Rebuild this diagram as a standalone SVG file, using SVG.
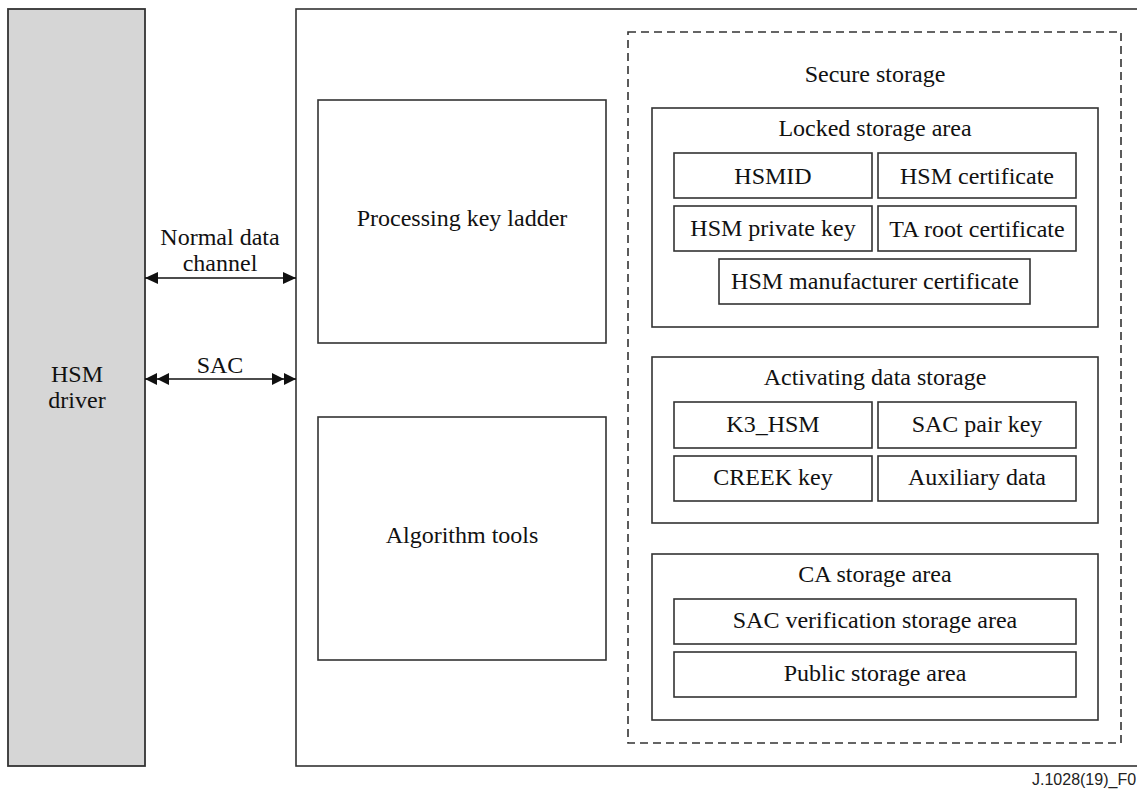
<svg xmlns="http://www.w3.org/2000/svg" width="1137" height="789" viewBox="0 0 1137 789">
  <style>
    .box { fill: #ffffff; stroke: #333333; stroke-width: 1.6; }
    .driver { fill: #d6d6d6; stroke: #333333; stroke-width: 1.8; }
    .dash { fill: none; stroke: #333333; stroke-width: 1.6; stroke-dasharray: 8 5; }
    .lbl { font-family: "Liberation Serif", "Times New Roman", serif; font-size: 24px; fill: #111111; text-anchor: middle; }
    .ref { font-family: "Liberation Sans", Arial, sans-serif; font-size: 16px; fill: #222222; }
    .conn { stroke: #111111; stroke-width: 1.6; fill: none; }
  </style>
  <defs>
    <marker id="head" markerUnits="userSpaceOnUse" markerWidth="14" markerHeight="12" refX="13" refY="6" orient="auto-start-reverse">
      <path d="M0,0 L13,6 L0,12 z" fill="#111111"/>
    </marker>
    <marker id="head2" markerUnits="userSpaceOnUse" markerWidth="25" markerHeight="12" refX="24" refY="6" orient="auto-start-reverse">
      <path d="M0,0 L12,6 L0,12 z M12,0 L24,6 L12,12 z" fill="#111111"/>
    </marker>
  </defs>

  <rect width="1137" height="789" fill="#ffffff"/>

  <g id="hsm-driver">
    <rect class="driver" x="8" y="9" width="137" height="757"/>
    <text class="lbl" x="77" y="382">HSM</text>
    <text class="lbl" x="77" y="408">driver</text>
  </g>

  <g id="hsm">
    <rect class="box" x="296" y="9" width="860" height="757"/>
  </g>

  <g id="key-ladder">
    <rect class="box" x="318" y="100" width="288" height="243"/>
    <text class="lbl" x="462" y="226">Processing key ladder</text>
  </g>

  <g id="algorithm-tools">
    <rect class="box" x="318" y="417" width="288" height="243"/>
    <text class="lbl" x="462" y="543">Algorithm tools</text>
  </g>

  <g id="secure-storage">
    <rect class="dash" x="628" y="32" width="493" height="711"/>
    <text class="lbl" x="875" y="82">Secure storage</text>
  </g>

  <g id="locked-storage">
    <rect class="box" x="652" y="108" width="446" height="219"/>
    <text class="lbl" x="875" y="136">Locked storage area</text>
  </g>
  <g id="hsmid">
    <rect class="box" x="674" y="153" width="198" height="45"/>
    <text class="lbl" x="773" y="184">HSMID</text>
  </g>
  <g id="hsm-cert">
    <rect class="box" x="878" y="153" width="198" height="45"/>
    <text class="lbl" x="977" y="184">HSM certificate</text>
  </g>
  <g id="hsm-private-key">
    <rect class="box" x="674" y="206" width="198" height="45"/>
    <text class="lbl" x="773" y="236">HSM private key</text>
  </g>
  <g id="ta-root-cert">
    <rect class="box" x="878" y="206" width="198" height="45"/>
    <text class="lbl" x="977" y="237">TA root certificate</text>
  </g>
  <g id="hsm-mfr-cert">
    <rect class="box" x="719" y="259" width="311" height="45"/>
    <text class="lbl" x="875" y="289">HSM manufacturer certificate</text>
  </g>

  <g id="activating-storage">
    <rect class="box" x="652" y="357" width="446" height="166"/>
    <text class="lbl" x="875" y="385">Activating data storage</text>
  </g>
  <g id="k3-hsm">
    <rect class="box" x="674" y="402" width="198" height="46"/>
    <text class="lbl" x="773" y="432">K3_HSM</text>
  </g>
  <g id="sac-pair-key">
    <rect class="box" x="878" y="402" width="198" height="46"/>
    <text class="lbl" x="977" y="432">SAC pair key</text>
  </g>
  <g id="creek-key">
    <rect class="box" x="674" y="456" width="198" height="45"/>
    <text class="lbl" x="773" y="485">CREEK key</text>
  </g>
  <g id="auxiliary-data">
    <rect class="box" x="878" y="456" width="198" height="45"/>
    <text class="lbl" x="977" y="485">Auxiliary data</text>
  </g>

  <g id="ca-storage">
    <rect class="box" x="652" y="554" width="446" height="166"/>
    <text class="lbl" x="875" y="582">CA storage area</text>
  </g>
  <g id="sac-verification">
    <rect class="box" x="674" y="599" width="402" height="45"/>
    <text class="lbl" x="875" y="628">SAC verification storage area</text>
  </g>
  <g id="public-storage">
    <rect class="box" x="674" y="652" width="402" height="45"/>
    <text class="lbl" x="875" y="681">Public storage area</text>
  </g>

  <g id="connectors">
    <line class="conn" x1="145" y1="278" x2="296" y2="278" marker-start="url(#head)" marker-end="url(#head)"/>
    <text class="lbl" x="220" y="245">Normal data</text>
    <text class="lbl" x="220" y="271">channel</text>
    <line class="conn" x1="145" y1="379" x2="296" y2="379" marker-start="url(#head2)" marker-end="url(#head2)"/>
    <text class="lbl" x="220" y="373">SAC</text>
  </g>

  <text class="ref" x="1032" y="785">J.1028(19)_F0</text>
</svg>
